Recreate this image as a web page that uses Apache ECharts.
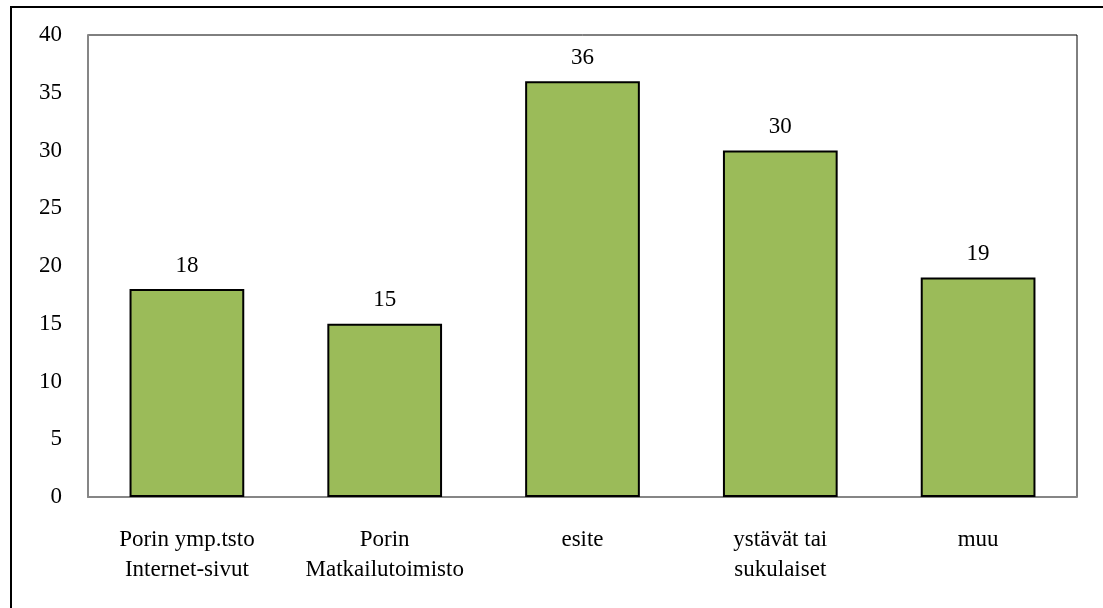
<!DOCTYPE html>
<html>
<head>
<meta charset="utf-8">
<script src="https://cdn.jsdelivr.net/npm/echarts@6/dist/echarts.min.js"></script>
<style>
  html, body { margin: 0; padding: 0; background: #fff; }
  #chart { width: 1103px; height: 608px; }
</style>
</head>
<body>
<div id="chart"></div>
<script>
// categories and values
const categories = [
  'Porin ymp.tsto\nInternet-sivut',
  'Porin\nMatkailutoimisto',
  'esite',
  'ystävät tai\nsukulaiset',
  'muu'
]
const values = [18, 15, 36, 30, 19]
const yTicks = [0, 5, 10, 15, 20, 25, 30, 35, 40]

const font = 'Liberation Serif'
const chart = echarts.init(document.getElementById('chart'))

chart.setOption({
  animation: false,
  backgroundColor: '#fff',
  graphic: [
    {
      type: 'rect',
      shape: { x: 11, y: 7, width: 1110, height: 620 },
      style: { fill: 'none', stroke: '#000', lineWidth: 2 },
      silent: true
    }
  ],
  grid: {
    left: 88,
    right: 26,
    top: 35,
    bottom: 111,
    show: true,
    borderColor: '#000',
    borderWidth: 1
  },
  xAxis: {
    type: 'category',
    data: categories,
    axisLine: { show: true, lineStyle: { color: '#868686', width: 2 } },
    axisTick: { show: false },
    axisLabel: {
      color: '#000',
      fontFamily: font,
      fontSize: 23,
      lineHeight: 30,
      margin: 28,
      interval: 0
    }
  },
  yAxis: {
    type: 'value',
    min: yTicks[0],
    max: yTicks[yTicks.length - 1],
    interval: 5,
    axisLine: { show: true, lineStyle: { color: '#868686', width: 2 } },
    axisTick: { show: false },
    splitLine: { show: false },
    axisLabel: {
      color: '#000',
      fontFamily: font,
      fontSize: 23,
      margin: 26
    }
  },
  series: [
    {
      type: 'bar',
      data: values,
      barWidth: '58%',
      itemStyle: {
        color: '#9BBB59',
        borderColor: '#000',
        borderWidth: 2
      },
      label: {
        show: true,
        position: 'top',
        distance: 12,
        color: '#000',
        fontFamily: font,
        fontSize: 23
      }
    }
  ]
})
</script>
</body>
</html>
